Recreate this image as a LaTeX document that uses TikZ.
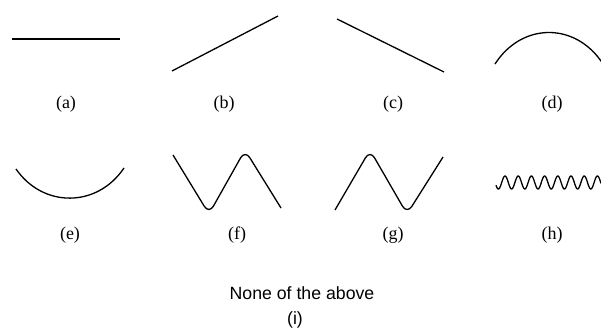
\documentclass[tikz,border=0pt]{standalone}
\usepackage{fontspec}
\setmainfont{Liberation Serif}
\setsansfont{Liberation Sans}
\tikzset{
    % line style - all curves
    curve/.style={
        line width=1.3pt,
        draw=black
    },
    % label styles
    caption/.style={
        font=\fontsize{18}{21}\selectfont,
        inner sep=0pt
    },
    answer/.style={
        font=\sffamily\fontsize{17.7}{21}\selectfont,
        inner sep=0pt
    }
}

\begin{document}
\begin{tikzpicture}[x=1pt, y=-1pt]
    \useasboundingbox (0,0) rectangle (601,328);

    % first row
    \draw[curve] (12,39) -- (120,39);
    \draw[curve] (172,71) -- (278,16);
    \draw[curve] (337,19) -- (444,72);
    \draw[curve] (495,64) .. controls (522,22) and (576,22) .. (603,64);

    \node[caption] (a) at (66,104) {(a)};
    \node[caption] (b) at (224,104) {(b)};
    \node[caption] (c) at (393,104) {(c)};
    \node[caption] (d) at (552,104) {(d)};

    % second row
    \draw[curve] (16,169) .. controls (43,208) and (97,208) .. (124,168);
    \draw[curve, rounded corners=9pt] (173,155) -- (209,214) -- (245,150) -- (281,208);
    \draw[curve, rounded corners=9pt] (335,210) -- (370,150) -- (407,214) -- (443,157);
    \draw[curve] plot[domain=496:601, samples=300] (\x, {182.5 - 6.5*cos((\x-505)*27.27)});

    \node[caption] (e) at (70,235) {(e)};
    \node[caption] (f) at (237,235) {(f)};
    \node[caption] (g) at (393,235) {(g)};
    \node[caption] (h) at (552,235) {(h)};

    % last option
    \node[answer] (none) at (302,293.5) {None of the above};
    \node[answer] (i) at (295,320) {(i)};
\end{tikzpicture}
\end{document}
